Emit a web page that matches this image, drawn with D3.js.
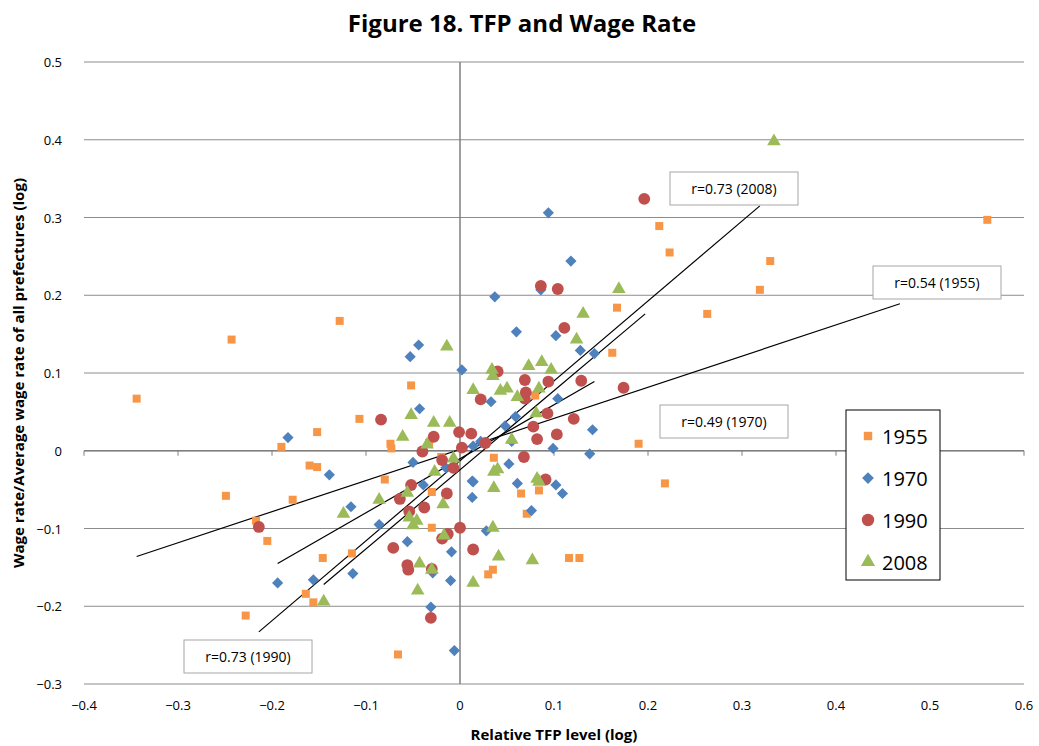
<!DOCTYPE html>
<html><head><meta charset="utf-8">
<script src="https://cdn.jsdelivr.net/npm/d3@7"></script>
<style>body{margin:0;background:#fff}text{font-family:"Open Sans",sans-serif}</style>
</head><body><div id="chart"></div>
<script>
var svgWidth = 1039, svgHeight = 746;
var margin = {top: 62, right: 15, bottom: 62, left: 84};
var chartWidth = 1024 - margin.left;
var chartHeight = 684 - margin.top;

var xTicks = [-0.4, -0.3, -0.2, -0.1, 0, 0.1, 0.2, 0.3, 0.4, 0.5, 0.6];
var yTicks = [-0.3, -0.2, -0.1, 0, 0.1, 0.2, 0.3, 0.4, 0.5];

var data1955 = [[-0.344,0.067],[-0.243,0.143],[-0.128,0.167],[-0.249,-0.058],[-0.217,-0.090],[-0.205,-0.116],
  [-0.190,0.005],[-0.152,0.024],[-0.160,-0.019],[-0.152,-0.021],[-0.178,-0.063],[-0.146,-0.138],[-0.115,-0.132],
  [-0.164,-0.184],[-0.156,-0.195],[-0.228,-0.212],[-0.052,0.084],[-0.107,0.041],[-0.080,-0.037],[-0.074,0.009],
  [-0.073,0.003],[-0.033,0.010],[-0.020,-0.008],[-0.030,-0.053],[-0.030,-0.099],[-0.066,-0.262],[0.080,0.071],
  [0.167,0.184],[0.162,0.126],[0.190,0.009],[0.036,-0.009],[0.065,-0.055],[0.084,-0.051],[0.071,-0.081],
  [0.116,-0.138],[0.127,-0.138],[0.030,-0.159],[0.035,-0.153],[0.212,0.289],[0.223,0.255],[0.218,-0.042],
  [0.263,0.176],[0.319,0.207],[0.330,0.244],[0.561,0.297]];
var data1970 = [[-0.044,0.136],[-0.053,0.121],[0.002,0.104],[-0.183,0.017],[-0.139,-0.031],
  [-0.043,0.054],[-0.050,-0.015],[-0.039,-0.044],[-0.015,-0.022],[-0.116,-0.072],[-0.086,-0.095],[-0.056,-0.117],
  [-0.009,-0.130],[-0.194,-0.170],[-0.156,-0.166],[-0.114,-0.158],[-0.029,-0.157],[-0.010,-0.167],[-0.031,-0.201],
  [-0.006,-0.257],[0.013,-0.039],[0.013,-0.060],[0.094,0.306],[0.118,0.244],[0.037,0.198],[0.086,0.207],
  [0.060,0.153],[0.102,0.148],[0.128,0.129],[0.143,0.125],[0.033,0.063],[0.104,0.067],[0.059,0.044],
  [0.048,0.032],[0.141,0.027],[0.014,0.006],[0.022,0.012],[0.055,0.012],[0.099,0.003],[0.138,-0.004],
  [0.052,-0.017],[0.014,-0.040],[0.061,-0.042],[0.102,-0.044],[0.109,-0.055],[0.076,-0.077],[0.028,-0.103]];
var data1990 = [[-0.084,0.040],[-0.028,0.018],[-0.001,0.024],[0.012,0.022],[0.002,0.004],[-0.040,-0.001],
  [-0.019,-0.012],[-0.007,-0.022],[-0.052,-0.044],[-0.064,-0.062],[-0.014,-0.055],[-0.038,-0.073],[-0.054,-0.078],
  [-0.214,-0.098],[0.000,-0.099],[-0.019,-0.113],[-0.013,-0.107],[-0.071,-0.125],[0.014,-0.127],[-0.056,-0.147],
  [-0.055,-0.153],[-0.030,-0.152],[-0.031,-0.215],[0.196,0.324],[0.086,0.212],[0.104,0.208],[0.111,0.158],
  [0.040,0.102],[0.022,0.066],[0.069,0.091],[0.070,0.075],[0.069,0.067],[0.094,0.089],[0.129,0.090],
  [0.174,0.081],[0.093,0.048],[0.121,0.041],[0.078,0.031],[0.082,0.015],[0.103,0.021],[0.027,0.010],
  [0.068,-0.008],[0.091,-0.037]];
var data2008 = [[-0.014,0.134],[0.014,0.078],[-0.052,0.046],[-0.028,0.036],[-0.011,0.036],[-0.061,0.018],
  [-0.035,0.008],[-0.007,-0.010],[-0.027,-0.027],[-0.086,-0.063],[-0.056,-0.054],[-0.018,-0.069],[-0.124,-0.081],
  [-0.054,-0.086],[-0.046,-0.090],[-0.050,-0.096],[-0.017,-0.109],[-0.043,-0.145],[-0.030,-0.153],[0.014,-0.170],
  [-0.045,-0.180],[-0.145,-0.194],[0.169,0.208],[0.131,0.176],[0.124,0.143],[0.034,0.104],[0.035,0.096],
  [0.073,0.109],[0.087,0.114],[0.097,0.104],[0.043,0.077],[0.050,0.080],[0.061,0.069],[0.084,0.080],
  [0.081,0.048],[0.055,0.014],[0.036,-0.027],[0.040,-0.024],[0.036,-0.048],[0.082,-0.036],[0.084,-0.040],
  [0.035,-0.099],[0.041,-0.136],[0.077,-0.141],[0.334,0.398]];

// fitted lines [x1, y1, x2, y2]
var trendLines = [[-0.344,-0.136,0.468,0.189],[-0.194,-0.145,0.143,0.089],
  [-0.214,-0.233,0.319,0.315],[-0.145,-0.172,0.197,0.176]];
var seriesNames = ["1955", "1970", "1990", "2008"];
var rLabels = ["r=0.73 (2008)", "r=0.54 (1955)", "r=0.49 (1970)", "r=0.73 (1990)"];

var svg = d3.select("#chart").append("svg")
  .attr("width", svgWidth).attr("height", svgHeight);
var g = svg.append("g").attr("transform", `translate(${margin.left}, ${margin.top})`);

var x = d3.scaleLinear().domain([-0.4, 0.6]).range([0, chartWidth]);
var y = d3.scaleLinear().domain([-0.3, 0.5]).range([chartHeight, 0]);

g.selectAll(".grid").data(yTicks).enter().append("line")
  .attr("x1", 0).attr("x2", chartWidth)
  .attr("y1", d => y(d)).attr("y2", d => y(d))
  .attr("stroke", "#8c8c8c").attr("stroke-width", 1);
g.append("line").attr("x1", x(0)).attr("x2", x(0)).attr("y1", 0).attr("y2", chartHeight)
  .attr("stroke", "#7f7f7f").attr("stroke-width", 1.5);
g.append("line").attr("x1", 0).attr("x2", chartWidth).attr("y1", y(0)).attr("y2", y(0))
  .attr("stroke", "#7f7f7f").attr("stroke-width", 1.5);
g.selectAll(".xt").data(xTicks).enter().append("line")
  .attr("x1", d => x(d)).attr("x2", d => x(d)).attr("y1", y(0)).attr("y2", y(0) + 5)
  .attr("stroke", "#7f7f7f");

g.selectAll(".yl").data(yTicks).enter().append("text")
  .attr("x", -22).attr("y", d => y(d) + 5).attr("text-anchor", "end")
  .attr("font-size", 13).text(d => d3.format("")(d));
g.selectAll(".xl").data(xTicks).enter().append("text")
  .attr("x", d => x(d)).attr("y", chartHeight + 26).attr("text-anchor", "middle")
  .attr("font-size", 13).text(d => d3.format("")(d));

// trend lines
g.selectAll(".trend").data(trendLines).enter().append("line")
  .attr("x1", d => x(d[0])).attr("y1", d => y(d[1]))
  .attr("x2", d => x(d[2])).attr("y2", d => y(d[3]))
  .attr("stroke", "#000").attr("stroke-width", 1.2);

var colors = ["#f79646", "#4f81bd", "#c0504d", "#9bbb59"];
function sym(i, s) {
  var types = [d3.symbolSquare, d3.symbolDiamond2, d3.symbolCircle, d3.symbolTriangle];
  var sizes = [64, 80, 110, 80];
  return d3.symbol().type(types[i]).size(sizes[i] * (s || 1))();
}
[data1955, data1970, data1990, data2008].forEach(function(ds, i) {
  g.selectAll(".s" + i).data(ds).enter().append("path")
    .attr("d", sym(i))
    .attr("transform", d => `translate(${x(d[0])},${y(d[1])})`)
    .attr("fill", colors[i]);
});

// r label boxes (pixel positions of callouts)
var boxPos = [[586, 110], [789, 204], [576, 343], [100, 578]];
rLabels.forEach(function(t, i) {
  var b = g.append("g").attr("transform", `translate(${boxPos[i][0]},${boxPos[i][1]})`);
  b.append("rect").attr("width", 128).attr("height", 33).attr("fill", "#fff").attr("stroke", "#a6a6a6");
  b.append("text").attr("x", 64).attr("y", 22).attr("text-anchor", "middle").attr("font-size", 14).text(t);
});

// legend
var lg = g.append("g").attr("transform", "translate(762, 348)");
lg.append("rect").attr("width", 94).attr("height", 170).attr("fill", "#fff").attr("stroke", "#000");
seriesNames.forEach(function(n, i) {
  lg.append("path").attr("d", sym(i, 1.1)).attr("transform", `translate(22,${26 + i * 42})`).attr("fill", colors[i]);
  lg.append("text").attr("x", 36).attr("y", 34 + i * 42).attr("font-size", 20).text(n);
});

svg.append("text").attr("x", 522).attr("y", 32).attr("text-anchor", "middle")
  .attr("font-size", 24).attr("font-weight", "bold").text("Figure 18. TFP and Wage Rate");
svg.append("text").attr("x", 554).attr("y", 740).attr("text-anchor", "middle")
  .attr("font-size", 15).attr("font-weight", "bold").text("Relative TFP level (log)");
svg.append("text").attr("transform", "translate(24,373) rotate(-90)").attr("text-anchor", "middle")
  .attr("font-size", 15).attr("font-weight", "bold").text("Wage rate/Average wage rate of all prefectures (log)");
</script></body></html>
